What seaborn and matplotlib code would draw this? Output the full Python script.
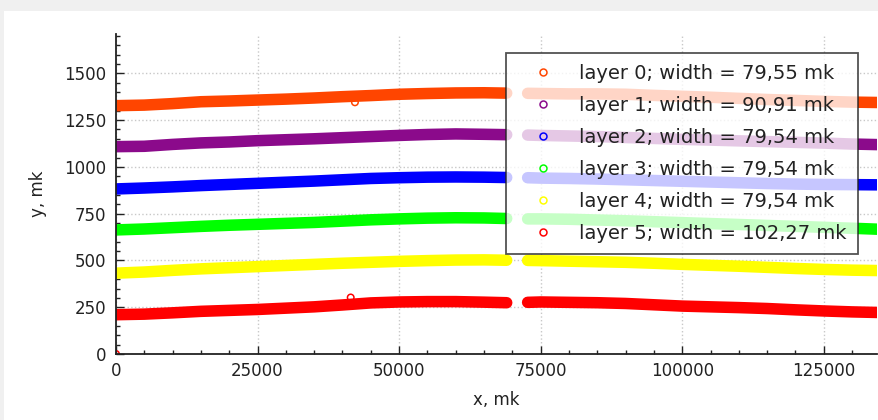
import numpy as np
import pandas as pd
import matplotlib
matplotlib.use('Agg')
import matplotlib.pyplot as plt
from matplotlib.lines import Line2D
from matplotlib.patches import Rectangle
from matplotlib.ticker import MultipleLocator
import seaborn as sns

# Band centres (x in mk); each layer has a gap near x = 70000
x_left = [0, 5000, 10000, 15000, 20000, 25000, 30000, 35000, 40000, 45000,
          50000, 55000, 60000, 65000, 69000]
x_right = [72700, 75000, 80000, 85000, 90000, 95000, 100000, 105000, 110000,
           115000, 120000, 125000, 130000, 134400]

layer0 = [1327, 1330, 1338, 1348, 1352, 1357, 1362, 1368, 1375, 1381, 1388, 1392, 1395, 1396, 1394,
          1393, 1392, 1390, 1390, 1388, 1382, 1377, 1372, 1366, 1360, 1355, 1350, 1346, 1344]
layer1 = [1108, 1110, 1120, 1128, 1133, 1140, 1145, 1150, 1156, 1162, 1168, 1173, 1176, 1174, 1172,
          1170, 1168, 1165, 1162, 1157, 1152, 1147, 1143, 1139, 1135, 1131, 1127, 1122, 1119]
layer2 = [882, 887, 893, 900, 906, 912, 918, 924, 931, 938, 942, 945, 946, 945, 943,
          942, 940, 938, 935, 931, 927, 923, 919, 915, 911, 908, 906, 905, 904]
layer3 = [663, 668, 675, 682, 688, 693, 698, 703, 710, 717, 722, 726, 728, 727, 724,
          722, 722, 720, 716, 712, 707, 702, 697, 692, 687, 682, 677, 672, 667]
layer4 = [432, 438, 447, 455, 461, 467, 473, 479, 485, 490, 495, 499, 502, 503, 501,
          500, 499, 496, 493, 490, 485, 479, 474, 469, 463, 457, 452, 448, 446]
layer5 = [210, 213, 220, 228, 233, 238, 245, 252, 262, 273, 278, 280, 280, 277, 274,
          276, 278, 276, 274, 270, 263, 256, 252, 248, 243, 236, 230, 225, 222]

# stray points
outlier_x = [42200, 41450, 0]
outlier_y = [1345, 302, 0]
outlier_layer = ['layer 0', 'layer 5', 'layer 5']

layer_names = ['layer 0', 'layer 1', 'layer 2', 'layer 3', 'layer 4', 'layer 5']
layer_widths = ['79,55', '90,91', '79,54', '79,54', '79,54', '102,27']
layer_colors = ['#ff4500', '#8b0a8b', '#0000ff', '#00ff00', '#ffff00', '#ff0000']

# build long table
rows = []
for name, vals in zip(layer_names, [layer0, layer1, layer2, layer3, layer4, layer5]):
    for i, (xv, yv) in enumerate(zip(x_left + x_right, vals)):
        rows.append({'x': xv, 'y': yv, 'layer': name, 'seg': 0 if i < len(x_left) else 1})
df = pd.DataFrame(rows)
df_out = pd.DataFrame({'x': outlier_x, 'y': outlier_y, 'layer': outlier_layer})
palette = dict(zip(layer_names, layer_colors))

sns.set_theme(style='white')
plt.rcParams['font.family'] = ['DejaVu Sans']

fig = plt.figure(figsize=(8.79, 4.2), dpi=100)
fig.patches.append(Rectangle((0, 409 / 420), 1, 11 / 420, transform=fig.transFigure,
                             facecolor='#f0f0f0', edgecolor='none', zorder=0))
fig.patches.append(Rectangle((0, 0), 4 / 879, 1, transform=fig.transFigure,
                             facecolor='#f0f0f0', edgecolor='none', zorder=0))
ax = fig.add_axes([116 / 879, 1 - 354 / 420, (877 - 116) / 879, (354 - 34) / 420])

sns.lineplot(data=df, x='x', y='y', hue='layer', units='seg', estimator=None,
             palette=palette, linewidth=8.3, legend=False, ax=ax,
             solid_capstyle='round', sort=False)
sns.scatterplot(data=df_out, x='x', y='y', hue='layer', palette=palette, legend=False, ax=ax,
                marker='o', s=22, facecolors='none', linewidth=1.1)
# scatter with facecolors none: set edge colours explicitly
coll = ax.collections[-1]
coll.set_edgecolors([palette[l] for l in outlier_layer])
coll.set_facecolors('none')

ax.set_xlim(0, 134400)
ax.set_ylim(0, 1710)
ax.xaxis.set_major_locator(MultipleLocator(25000))
ax.xaxis.set_minor_locator(MultipleLocator(5000))
ax.yaxis.set_major_locator(MultipleLocator(250))
ax.yaxis.set_minor_locator(MultipleLocator(50))
ax.tick_params(which='both', direction='in', colors='#222222', width=1, labelsize=12,
               labelcolor='#222222', bottom=True, left=True)
ax.tick_params(which='major', length=5.8)
ax.tick_params(which='minor', length=2.9)
ax.tick_params(axis='y', which='both', pad=7)
ax.tick_params(axis='x', which='both', pad=6)
ax.grid(True, which='major', linestyle=':', color='#c8c8c8', linewidth=1)

for side in ['top', 'right']:
    ax.spines[side].set_visible(False)
for side in ['left', 'bottom']:
    ax.spines[side].set_color('#222222')
    ax.spines[side].set_linewidth(1.3)

ax.set_xlabel('x, mk', fontsize=12, color='#222222', labelpad=8)
ax.set_ylabel('y, mk', fontsize=12, color='#222222', labelpad=12)

handles = [Line2D([], [], linestyle='none', marker='o', markersize=5, markerfacecolor='none',
                  markeredgecolor=c, markeredgewidth=1.1) for c in layer_colors]
labels = [f'{n}; width = {w} mk' for n, w in zip(layer_names, layer_widths)]
leg = ax.legend(handles, labels, loc='upper right', fontsize=14, frameon=True,
                fancybox=False, framealpha=0.78, edgecolor='#222222', facecolor='white',
                handlelength=2.7, handletextpad=0.5, labelspacing=0.67, borderpad=0.55,
                borderaxespad=1.0)
leg.get_frame().set_linewidth(1.3)
for t in leg.get_texts():
    t.set_color('#222222')

fig.savefig('out.png', dpi=100)
